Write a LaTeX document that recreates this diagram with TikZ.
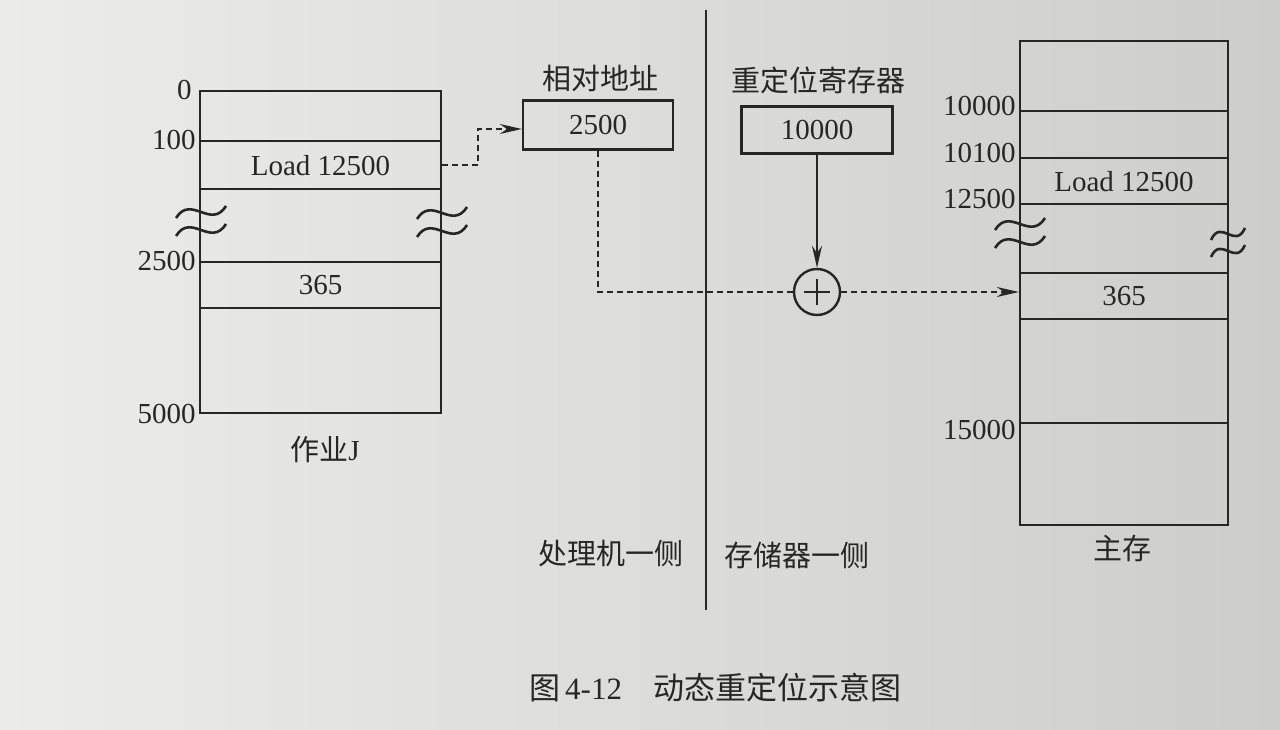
\documentclass[tikz,border=0pt]{standalone}
\usepackage{fontspec}
\setmainfont{Liberation Serif}
\newfontfamily\cjk{Noto Sans CJK SC}
\usetikzlibrary{arrows.meta,positioning,calc}
\definecolor{ink}{HTML}{262626}
\definecolor{paperl}{HTML}{ECECEA}
\definecolor{paperr}{HTML}{CDCDCB}
\tikzset{
  >={Stealth[length=22pt,width=10pt]},
  % speicher
  jrow/.style={draw=ink,line width=2.4pt,inner sep=0pt,
               minimum width=241pt,text=ink,node distance=-2.4pt},
  mrow/.style={draw=ink,line width=2.4pt,inner sep=0pt,
               minimum width=208pt,text=ink,node distance=-2.4pt},
  addr/.style={anchor=east,inner sep=3pt,text=ink},
  reg/.style={draw=ink,line width=2.4pt,inner sep=0pt,text=ink},
  lbl/.style={text=ink,inner sep=0pt},
  brk/.pic={
    \draw[ink,line width=2.6pt] (-25,6) .. controls (-10,-18) and (10,18) .. (25,-6);
    \draw[ink,line width=2.6pt] (-25,24) .. controls (-10,0) and (10,36) .. (25,12);
  },
  brks/.pic={
    \draw[ink,line width=2.6pt] (-17,6) .. controls (-7,-16) and (7,16) .. (17,-6);
    \draw[ink,line width=2.6pt] (-17,23) .. controls (-7,1) and (7,33) .. (17,11);
  },
  % verbindungen
  dl/.style={draw=ink,line width=1.8pt,dash pattern=on 6pt off 4pt},
  sl/.style={->,draw=ink,line width=1.8pt},
}
\begin{document}
\begin{tikzpicture}[x=1pt,y=-1pt,every node/.append style={font=\fontsize{29}{33}\selectfont}]
  \shade[left color=paperl,right color=paperr] (0,0) rectangle (1280,730);
  % job J
  \node[jrow,minimum height=50pt,anchor=north] (j0) at (320.5,90) {};
  \node[jrow,minimum height=48pt,below=of j0] (jload) {Load 12500};
  \node[jrow,minimum height=73pt,below=of jload] (jgap) {};
  \node[jrow,minimum height=46pt,below=of jgap] (j365) {365};
  \node[jrow,minimum height=105pt,below=of j365] (jend) {};
  \node[addr] (a0) at ([xshift=-4pt]j0.north west) {0};
  \node[addr] (a100) at (jload.north west) {100};
  \node[addr] (a2500) at (j365.north west) {2500};
  \node[addr] (a5000) at (jend.south west) {5000};
  \pic at (201,212) {brk};
  \pic at (442,213) {brk};
  \node[lbl] (jlbl) at (325,450) {{\cjk 作业}J};
  % adressen
  \node[reg,minimum width=150pt,minimum height=49pt] (rel) at (598,125) {2500};
  \node[lbl] (rellbl) at (600,78) {\cjk 相对地址};
  \node[reg,minimum width=151pt,minimum height=47pt] (base) at (817,130) {10000};
  \node[lbl] (baselbl) at (818,80) {\cjk 重定位寄存器};
  \node[circle,draw=ink,line width=2.4pt,minimum size=46pt,inner sep=0pt] (sum) at (817,292) {};
  \draw[ink,line width=1.8pt] ([xshift=-13pt]sum.center) -- ([xshift=13pt]sum.center);
  \draw[ink,line width=1.8pt] ([yshift=-13pt]sum.center) -- ([yshift=13pt]sum.center);
  % hauptspeicher
  \node[mrow,minimum height=70pt,anchor=north] (m0) at (1124,40) {};
  \node[mrow,minimum height=47pt,below=of m0] (m1) {};
  \node[mrow,minimum height=46pt,below=of m1] (mload) {Load 12500};
  \node[mrow,minimum height=69pt,below=of mload] (mgap) {};
  \node[mrow,minimum height=46pt,below=of mgap] (m365) {365};
  \node[mrow,minimum height=104pt,below=of m365] (m2) {};
  \node[mrow,minimum height=102pt,below=of m2] (mend) {};
  \node[addr] (b10000) at ([yshift=4pt]m1.north west) {10000};
  \node[addr] (b10100) at ([yshift=4pt]mload.north west) {10100};
  \node[addr] (b12500) at ([yshift=4pt]mgap.north west) {12500};
  \node[addr] (b15000) at ([yshift=-8pt]mend.north west) {15000};
  \pic at (1020,224) {brk};
  \pic at (1228,234) {brks};
  \node[lbl] (mlbl) at (1122,548) {\cjk 主存};
  % trennlinie
  \coordinate (ctop) at (706,10);
  \coordinate (cbot) at (706,610);
  \draw[ink,line width=2.4pt] (ctop) -- (cbot);
  \node[lbl,anchor=east] (cpu) at (684,553) {\cjk 处理机一侧};
  \node[lbl,anchor=west] (mem) at (724,555) {\cjk 存储器一侧};
  % pfeile
  \draw[dl,->] (jload.east) -- ++(36,0) |- ([yshift=-4pt]rel.west);
  \draw[dl] (rel.south) |- (sum.west);
  \draw[dl,->] (sum.east) -- (sum.east -| m365.west);
  \draw[sl] (base.south) -- (sum.north);
  \node[lbl,font=\fontsize{31}{34}\selectfont] (fig) at (715,688)
    {{\cjk 图}\,4-12\hspace{1em}{\cjk 动态重定位示意图}};
\end{tikzpicture}
\end{document}
